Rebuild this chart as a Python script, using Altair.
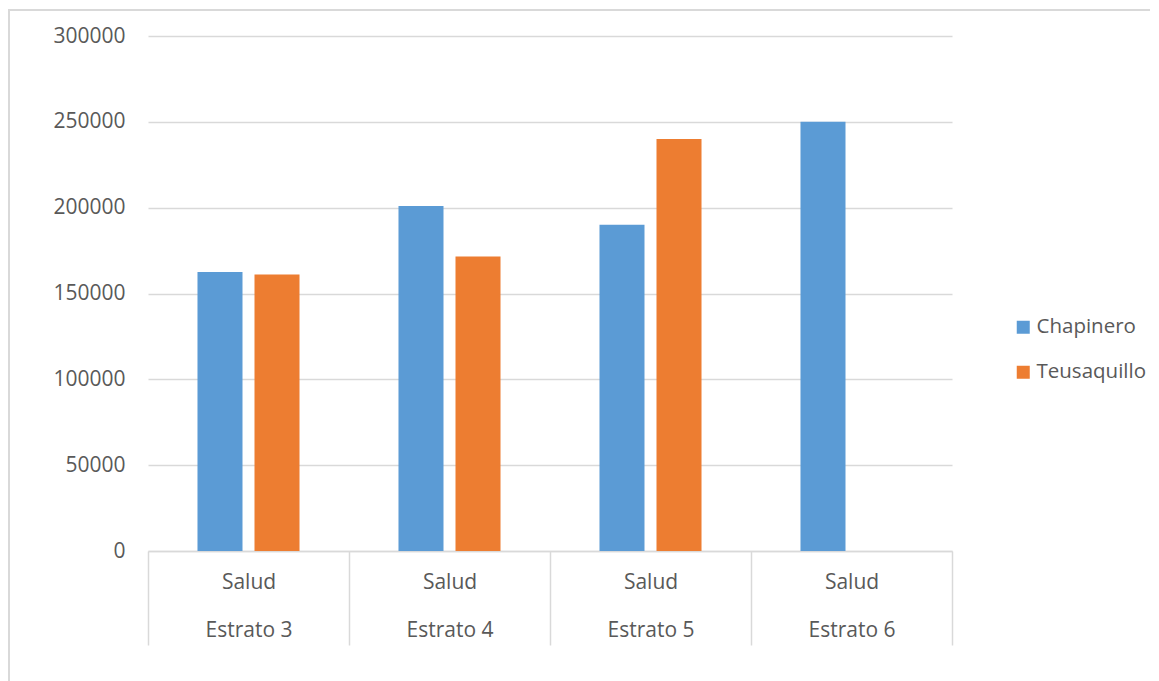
import altair as alt
import pandas as pd

categories = ["Estrato 3", "Estrato 4", "Estrato 5", "Estrato 6"]
series = ["Chapinero", "Teusaquillo"]
chapinero = [162500, 201000, 190000, 250000]
teusaquillo = [161000, 171500, 240000, None]
sub_label = "Salud"
y_ticks = [0, 50000, 100000, 150000, 200000, 250000, 300000]
colors = ["#5B9BD5", "#ED7D31"]

rows = []
for c, a, b in zip(categories, chapinero, teusaquillo):
    if a is not None:
        rows.append({"Estrato": c, "Serie": "Chapinero", "Valor": a})
    if b is not None:
        rows.append({"Estrato": c, "Serie": "Teusaquillo", "Valor": b})
df = pd.DataFrame(rows)

FONT = "Open Sans"
GRAY = "#d9d9d9"
TXT = "#595959"
FS = 21

bars = alt.Chart(df).mark_bar().encode(
    x=alt.X(
        "Estrato:N",
        sort=categories,
        scale=alt.Scale(domain=categories, paddingInner=0, paddingOuter=0),
        axis=alt.Axis(
            title=None,
            labelAngle=0,
            labelExpr=f"datum.value ? ['{sub_label}', datum.value] : ''",
            labelLineHeight=48,
            labelBaseline="middle",
            labelPadding=-63,
            labelFontSize=FS,
            labelColor=TXT,
            labelFont=FONT,
            tickBand="extent",
            tickSize=94,
            tickColor=GRAY,
            tickWidth=1.5,
            domainColor=GRAY,
            domainWidth=1.5,
            grid=False,
        ),
    ),
    xOffset=alt.XOffset(
        "Serie:N",
        scale=alt.Scale(domain=series, paddingInner=0.2105, paddingOuter=0.868),
    ),
    y=alt.Y(
        "Valor:Q",
        scale=alt.Scale(domain=[0, 300000], nice=False),
        axis=alt.Axis(
            title=None,
            values=y_ticks,
            format="d",
            domain=False,
            ticks=False,
            labelPadding=23,
            labelFontSize=FS,
            labelColor=TXT,
            labelFont=FONT,
            gridColor=GRAY,
            gridWidth=1.5,
        ),
    ),
    color=alt.Color(
        "Serie:N",
        scale=alt.Scale(domain=series, range=colors),
        legend=alt.Legend(
            title=None,
            orient="none",
            legendX=865,
            legendY=281,
            symbolType="square",
            symbolSize=169,
            symbolStrokeWidth=0,
            labelFontSize=20.5,
            labelColor=TXT,
            labelFont=FONT,
            labelOffset=3,
            rowPadding=24,
        ),
    ),
)

frame_df = pd.DataFrame({"k": [0]})
frame_top = alt.Chart(frame_df).mark_rule(color=GRAY, strokeWidth=2).encode(
    x=alt.value(-140), x2=alt.value(1010), y=alt.value(-26)
)
frame_left = alt.Chart(frame_df).mark_rule(color=GRAY, strokeWidth=2).encode(
    x=alt.value(-139), y=alt.value(-26), y2=alt.value(650)
)

chart = alt.layer(frame_top, frame_left, bars).properties(
    width=804,
    height=515,
    autosize=alt.AutoSizeParams(type="none"),
    padding={"left": 140, "top": 28, "right": 198, "bottom": 130},
).configure_view(stroke=None)

chart.save("out.html", embed_options={"renderer": "svg", "actions": False})
